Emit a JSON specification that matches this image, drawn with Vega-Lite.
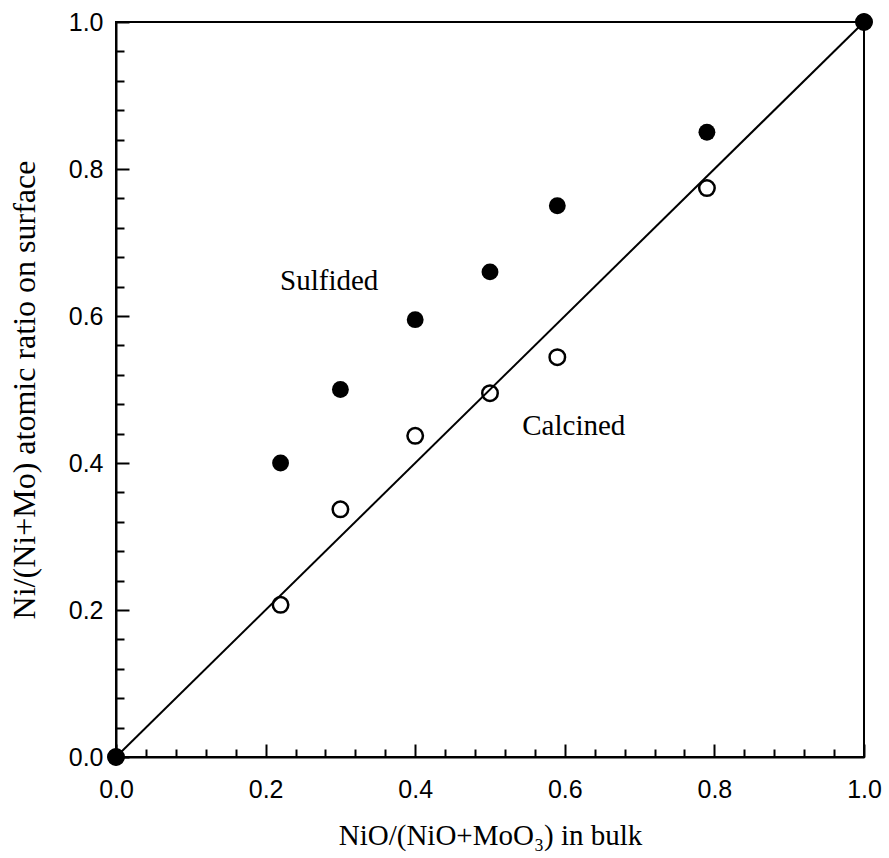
{
  "$schema": "https://vega.github.io/schema/vega-lite/v6.json",
  "width": 748,
  "height": 735,
  "autosize": {"type": "none"},
  "padding": {"left": 116, "top": 22, "right": 25, "bottom": 101},
  "background": "white",
  "config": {
    "view": {"stroke": "black", "strokeWidth": 2},
    "axis": {
      "domainColor": "black",
      "domainWidth": 2,
      "tickColor": "black",
      "tickWidth": 2,
      "grid": false,
      "labelFlush": false,
      "labelFont": "Liberation Sans",
      "labelFontSize": 25,
      "labelColor": "black",
      "titleFont": "Liberation Serif",
      "titleFontWeight": "normal",
      "titleColor": "black"
    }
  },
  "datasets": {
    "diag": [
      {"bulk": 0, "surface": 0},
      {"bulk": 1, "surface": 1}
    ],
    "samples": [
      {"bulk": 0.0, "surface": 0.0, "state": "Sulfided"},
      {"bulk": 0.22, "surface": 0.40, "state": "Sulfided"},
      {"bulk": 0.30, "surface": 0.50, "state": "Sulfided"},
      {"bulk": 0.40, "surface": 0.595, "state": "Sulfided"},
      {"bulk": 0.50, "surface": 0.66, "state": "Sulfided"},
      {"bulk": 0.59, "surface": 0.75, "state": "Sulfided"},
      {"bulk": 0.79, "surface": 0.85, "state": "Sulfided"},
      {"bulk": 1.0, "surface": 1.0, "state": "Sulfided"},
      {"bulk": 0.0, "surface": 0.0, "state": "Calcined"},
      {"bulk": 0.22, "surface": 0.207, "state": "Calcined"},
      {"bulk": 0.30, "surface": 0.337, "state": "Calcined"},
      {"bulk": 0.40, "surface": 0.437, "state": "Calcined"},
      {"bulk": 0.50, "surface": 0.495, "state": "Calcined"},
      {"bulk": 0.59, "surface": 0.544, "state": "Calcined"},
      {"bulk": 0.79, "surface": 0.774, "state": "Calcined"},
      {"bulk": 1.0, "surface": 1.0, "state": "Calcined"}
    ],
    "notes": [
      {"bulk": 0.285, "surface": 0.635, "label": "Sulfided"},
      {"bulk": 0.612, "surface": 0.438, "label": "Calcined"}
    ]
  },
  "layer": [
    {
      "encoding": {
        "x": {
          "field": "bulk", "type": "quantitative",
          "scale": {"domain": [0, 1], "nice": false, "zero": false},
          "axis": {
            "orient": "bottom",
            "values": [0, 0.2, 0.4, 0.6, 0.8, 1.0],
            "format": ".1f",
            "tickSize": -13,
            "labelPadding": 33,
            "labelBaseline": "top",
            "title": "NiO/(NiO+MoO₃) in bulk",
            "titleFont": "Liberation Serif",
            "titleFontSize": 29,
            "titleBaseline": "alphabetic",
            "titleY": 87
          }
        },
        "y": {
          "field": "surface", "type": "quantitative",
          "scale": {"domain": [0, 1], "nice": false, "zero": false},
          "axis": {
            "orient": "left",
            "values": [0, 0.2, 0.4, 0.6, 0.8, 1.0],
            "format": ".1f",
            "tickSize": -13,
            "labelPadding": 26,
            "title": "Ni/(Ni+Mo) atomic ratio on surface",
            "titleFont": "Liberation Serif",
            "titleFontSize": 32,
            "titleBaseline": "alphabetic",
            "titleAngle": 270,
            "titleX": -82
          }
        }
      },
      "layer": [
        {
          "data": {"name": "diag"},
          "mark": {"type": "line", "color": "black", "strokeWidth": 2}
        },
        {
          "data": {"name": "samples"},
          "transform": [{"filter": "datum.state === 'Calcined'"}],
          "mark": {"type": "point", "shape": "circle", "filled": false, "color": "black", "strokeWidth": 2.5, "size": 240, "opacity": 1}
        },
        {
          "data": {"name": "samples"},
          "transform": [{"filter": "datum.state === 'Sulfided'"}],
          "mark": {"type": "point", "shape": "circle", "filled": true, "color": "black", "size": 284, "opacity": 1}
        },
        {
          "data": {"name": "notes"},
          "mark": {"type": "text", "font": "Liberation Serif", "fontSize": 29, "color": "black", "align": "center", "baseline": "alphabetic"},
          "encoding": {"text": {"field": "label"}}
        }
      ]
    },
    {
      "data": {"name": "diag"},
      "mark": {"type": "point", "opacity": 0},
      "encoding": {
        "x": {
          "field": "bulk", "type": "quantitative",
          "scale": {"domain": [0, 1], "nice": false, "zero": false},
          "axis": {
            "orient": "bottom",
            "values": [0.04, 0.08, 0.12, 0.16, 0.24, 0.28, 0.32, 0.36, 0.44, 0.48, 0.52, 0.56, 0.64, 0.68, 0.72, 0.76, 0.84, 0.88, 0.92, 0.96],
            "tickSize": -8,
            "labels": false,
            "domain": false,
            "title": null
          }
        },
        "y": {
          "field": "surface", "type": "quantitative",
          "scale": {"domain": [0, 1], "nice": false, "zero": false},
          "axis": {
            "orient": "left",
            "values": [0.04, 0.08, 0.12, 0.16, 0.24, 0.28, 0.32, 0.36, 0.44, 0.48, 0.52, 0.56, 0.64, 0.68, 0.72, 0.76, 0.84, 0.88, 0.92, 0.96],
            "tickSize": -8,
            "labels": false,
            "domain": false,
            "title": null
          }
        }
      }
    }
  ],
  "resolve": {"scale": {"x": "independent", "y": "independent"}}
}
